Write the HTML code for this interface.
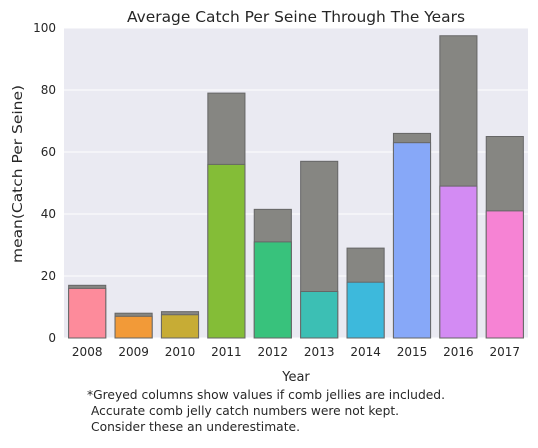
<!DOCTYPE html>
<html><head><meta charset="utf-8"><style>
body{margin:0;background:#fff;font-family:"DejaVu Sans",sans-serif;}
svg text{font-family:"DejaVu Sans",sans-serif;}
</style></head><body>
<svg id="chart" width="538" height="444"></svg>
<script>
const years=["2008","2009","2010","2011","2012","2013","2014","2015","2016","2017"];
const withJellies=[17,8,8.5,79,41.5,57,29,66,97.5,65];
const withoutJellies=[16,7,7.5,56,31,15,18,63,49,41];
const yTicks=[0,20,40,60,80,100];
const colors=["#fd8b9b","#f29a38","#c7ac35","#84bd37","#38c27c","#3cbfb4","#3db9dc","#87a8f8","#d38bf3","#f683d4"];
const L=64,R=528,T=28,B=338;
const svg=document.getElementById('chart');
const NS="http://www.w3.org/2000/svg";
function y(v){return B-(v/100)*(B-T);}
const bw=(R-L)/years.length;
function x(i){return L+bw*i+bw/2;}
function el(t,a,p){const e=document.createElementNS(NS,t);for(const k in a)e.setAttribute(k,a[k]);(p||svg).appendChild(e);return e;}
const bg=el('rect',{x:L,y:T,width:R-L,height:B-T,fill:'#eaeaf2'});


yTicks.forEach(t=>{
 const g=el('line',{x1:L,x2:R,y1:y(t),y2:y(t),stroke:'#fff','stroke-width':1});
 
 
 const tx=el('text',{x:L-8,y:y(t)+4,'text-anchor':'end','font-size':12,fill:'#262626'});
 tx.textContent=t;
 
 
});
years.forEach((yr,i)=>{
 const w=bw*0.8;
 const g=el('rect',{x:x(i)-w/2,y:y(withJellies[i]),width:w,height:B-y(withJellies[i]),fill:'#868682',stroke:'#666','stroke-width':1});
 
 
 const c=el('rect',{x:x(i)-w/2,y:y(withoutJellies[i]),width:w,height:B-y(withoutJellies[i]),fill:colors[i],stroke:'#666','stroke-width':1});
 
 
 const tx=el('text',{x:x(i),y:B+18,'text-anchor':'middle','font-size':12,fill:'#262626'});
 tx.textContent=yr;
 
 
});
function txt(name,s,attrs){const t=el('text',Object.assign({fill:'#262626',lengthAdjust:'spacingAndGlyphs'},attrs));t.textContent=s;
 
 
 return t;}
txt('chart-title','Average Catch Per Seine Through The Years',{x:127,y:22,'font-size':15,textLength:338});
txt('x-axis-title','Year',{x:296,y:381,'font-size':13,'text-anchor':'middle'});
txt('y-axis-title','mean(Catch Per Seine)',{x:0,y:0,'font-size':13,textLength:178,transform:'translate(22,263) rotate(-90)'});
txt('footnote-line-1','*Greyed columns show values if comb jellies are included.',{x:87,y:399,'font-size':12,textLength:358});
txt('footnote-line-2','Accurate comb jelly catch numbers were not kept.',{x:91,y:415,'font-size':12,textLength:308});
txt('footnote-line-3','Consider these an underestimate.',{x:91,y:431,'font-size':12,textLength:209});
</script>
</body></html>
